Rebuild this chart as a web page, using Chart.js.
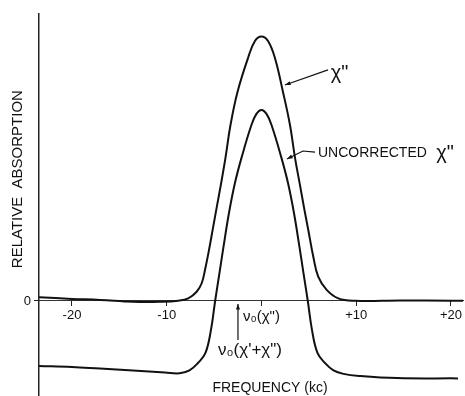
<!DOCTYPE html>
<html>
<head>
<meta charset="utf-8">
<script src="https://cdn.jsdelivr.net/npm/chart.js@4.4.1/dist/chart.umd.min.js"></script>
<style>
    html, body { margin: 0; padding: 0; background: #fff; }
    #wrap { width: 465px; height: 396px; }
</style>
</head>
<body>
<div id="wrap"><canvas id="myChart" width="465" height="396"></canvas></div>
<script>
// frequency offset (kc) and relative absorption
var chiFreq = [-23.48, -20, -17.05, -13.56, -10.71, -8.78, -7.73, -6.84, -6.31, -5.96, -5.54, -5.12, -4.7, -4.27, -3.8, -3.27, -2.53, -1.42, -0.69, 0, 0.69, 1.42, 2.27, 3.01, 3.54, 4.06, 4.54, 4.94, 5.47, 5.99, 6.88, 8.11, 9.87, 14.62, 20.1, 21.27];
var chiAbs = [0.14, 0.08, 0.04, -0.03, -0.03, 0.01, 0.1, 0.35, 0.67, 1.17, 1.92, 2.75, 3.58, 4.42, 5.4, 6.64, 7.89, 9.17, 9.81, 9.98, 9.81, 9.17, 7.89, 6.64, 5.4, 4.38, 3.43, 2.68, 1.67, 0.92, 0.42, 0.1, 0.01, 0.02, 0.01, 0.01];

var rawFreq = [-23.48, -20, -17.05, -13.56, -10.18, -8.65, -7.6, -6.7, -5.91, -5.33, -4.89, -4.43, -4.01, -3.43, -2.8, -2.11, -1.06, -0.53, 0, 0.53, 1.06, 2.11, 2.8, 3.43, 4.01, 4.43, 4.89, 5.33, 5.91, 6.7, 7.6, 8.65, 10.4, 14.3, 20.74];
var rawAbs = [-2.45, -2.49, -2.55, -2.62, -2.7, -2.73, -2.62, -2.34, -1.96, -1.09, 0, 1.06, 2.04, 3.32, 4.45, 5.4, 6.64, 7.06, 7.21, 7.06, 6.64, 5.4, 4.45, 3.32, 2.04, 1.06, 0, -1.09, -1.96, -2.34, -2.62, -2.75, -2.83, -2.91, -2.92];

var freqTicks = [-20, -10, 0, 10, 20];
var freqLabels = ["-20", "-10", "\u03bd\u2080(\u03c7\")", "+10", "+20"];
var absTicks = [0];

const FONT = "'Liberation Sans', Arial, sans-serif";

function toPoints(xs, ys) {
    return xs.map(function (x, i) { return { x: x, y: ys[i] }; });
}

function arrow(ctx, pts) {
    ctx.beginPath();
    ctx.moveTo(pts[0][0], pts[0][1]);
    for (var i = 1; i < pts.length; i++) ctx.lineTo(pts[i][0], pts[i][1]);
    ctx.stroke();
    var a = pts[pts.length - 2], b = pts[pts.length - 1];
    var ang = Math.atan2(b[1] - a[1], b[0] - a[0]);
    ctx.beginPath();
    ctx.moveTo(b[0], b[1]);
    ctx.lineTo(b[0] - 6 * Math.cos(ang - 0.35), b[1] - 6 * Math.sin(ang - 0.35));
    ctx.lineTo(b[0] - 6 * Math.cos(ang + 0.35), b[1] - 6 * Math.sin(ang + 0.35));
    ctx.closePath();
    ctx.fill();
}

// labels, arrows and axis titles, placed in data units
const notes = {
    id: "notes",
    afterDraw(chart) {
        const ctx = chart.ctx;
        const sx = chart.scales.x, sy = chart.scales.y;
        const p = function (x, y) { return [sx.getPixelForValue(x), sy.getPixelForValue(y)]; };
        ctx.save();
        ctx.fillStyle = "#111";
        ctx.strokeStyle = "#111";
        ctx.lineWidth = 1.2;

        // chi'' label
        arrow(ctx, [p(7.02, 8.72), p(2.48, 8.15)]);
        ctx.font = "20px " + FONT;
        ctx.textAlign = "left";
        ctx.textBaseline = "middle";
        var t = p(7.3, 8.6);
        ctx.fillText("\u03c7\"", t[0], t[1]);

        // uncorrected label
        arrow(ctx, [p(5.65, 5.62), p(4.38, 5.66), p(2.69, 5.36)]);
        ctx.font = "14px " + FONT;
        t = p(5.96, 5.58);
        ctx.fillText("UNCORRECTED", t[0], t[1]);
        var w = ctx.measureText("UNCORRECTED ").width;
        ctx.font = "20px " + FONT;
        ctx.fillText(" \u03c7\"", t[0] + w, t[1]);

        // nu0(chi' + chi'') marker
        arrow(ctx, [p(-2.48, -1.47), p(-2.48, -0.11)]);
        ctx.font = "17px " + FONT;
        ctx.textAlign = "center";
        t = p(-1.21, -1.85);
        ctx.fillText("\u03bd\u2080(\u03c7'+\u03c7\")", t[0], t[1]);

        // axis titles
        ctx.font = "14px " + FONT;
        t = p(0.9, -3.28);
        ctx.fillText("FREQUENCY (kc)", t[0], t[1]);
        t = p(-25.7, 4.6);
        ctx.translate(t[0], t[1]);
        ctx.rotate(-Math.PI / 2);
        ctx.font = "15px " + FONT;
        ctx.fillText("RELATIVE  ABSORPTION", 0, 0);
        ctx.restore();
    }
};

var ctx = document.getElementById("myChart").getContext("2d");
var myChart = new Chart(ctx, {
    type: "line",
    data: {
        datasets: [
            {
                label: "chi''",
                data: toPoints(chiFreq, chiAbs),
                borderColor: "#111",
                borderWidth: 2,
                pointRadius: 0,
                tension: 0.4,
            },
            {
                label: "uncorrected chi''",
                data: toPoints(rawFreq, rawAbs),
                borderColor: "#111",
                borderWidth: 2,
                pointRadius: 0,
                tension: 0.4,
            },
        ],
    },
    options: {
        responsive: false,
        animation: false,
        layout: { padding: { top: 14, right: 2, bottom: 0, left: 0 } },
        plugins: {
            legend: { display: false },
            tooltip: { enabled: false },
        },
        scales: {
            x: {
                type: "linear",
                position: { y: 0 },
                min: -23.48,
                max: 21.27,
                afterBuildTicks: function (scale) {
                    scale.ticks = freqTicks.map(function (v) { return { value: v }; });
                },
                ticks: {
                    color: "#111",
                    font: function (c) {
                        return { family: FONT, size: c.tick && c.tick.value === 0 ? 15 : 13 };
                    },
                    padding: 2,
                    maxRotation: 0,
                    callback: function (value) {
                        return freqLabels[freqTicks.indexOf(value)];
                    },
                },
                grid: { drawOnChartArea: false, tickLength: 5, color: "#222" },
                border: { color: "#333", width: 1, dash: [4, 2] },
            },
            y: {
                type: "linear",
                position: "left",
                min: -3.585,
                max: 10.83,
                afterBuildTicks: function (scale) {
                    scale.ticks = absTicks.map(function (v) { return { value: v }; });
                },
                afterFit: function (scale) {
                    scale.width = 39;
                    scale.paddingTop = 0;
                    scale.paddingBottom = 0;
                },
                ticks: {
                    color: "#111",
                    font: { family: FONT, size: 13 },
                    padding: 3,
                },
                grid: { drawOnChartArea: false, tickLength: 5, color: "#222" },
                border: { color: "#222", width: 1.5 },
            },
        },
    },
    plugins: [notes],
});
</script>
</body>
</html>
